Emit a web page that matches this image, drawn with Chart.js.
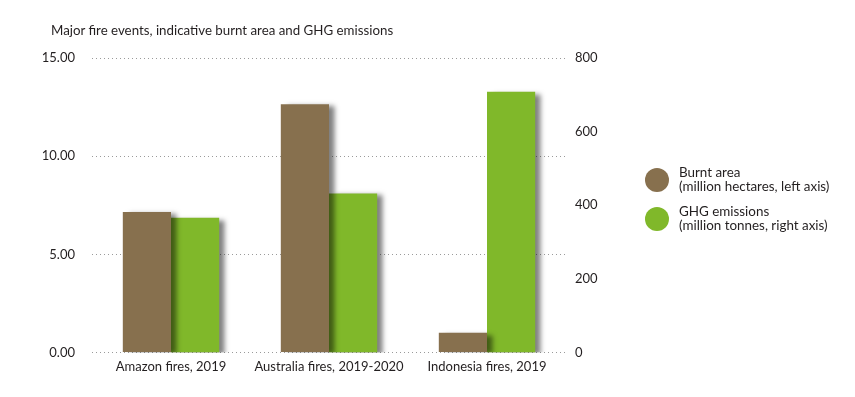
<!DOCTYPE html>
<html>
<head>
<meta charset="utf-8">
<script src="https://cdn.jsdelivr.net/npm/chart.js@4"></script>
<style>
  html, body { margin: 0; padding: 0; background: #fff; }
  #wrap { position: relative; width: 855px; height: 397px; overflow: hidden; font-family: Lato, sans-serif; color: #231f20; }
  #title { position: absolute; left: 51px; top: 22px; font-size: 13.3px; line-height: 16px; white-space: nowrap; }
  .leg { position: absolute; left: 645px; display: flex; align-items: center; }
  .dot { width: 24px; height: 24px; border-radius: 50%; margin-right: 10px; flex: none; }
  .lt { font-size: 13.4px; line-height: 13.5px; white-space: nowrap; }
  canvas { position: absolute; left: 0; top: 0; }
</style>
</head>
<body>
<div id="wrap">
  <canvas id="c" width="855" height="397"></canvas>
  <div id="title">Major fire events, indicative burnt area and GHG emissions</div>
  <div class="leg" style="top:166px"><div class="dot" style="background:#87704e"></div><div class="lt">Burnt area<br>(million hectares, left axis)</div></div>
  <div class="leg" style="top:205px"><div class="dot" style="background:#80b82a"></div><div class="lt">GHG emissions<br>(million tonnes, right axis)</div></div>
</div>
<script>
const categories = ["Amazon fires, 2019", "Australia fires, 2019-2020", "Indonesia fires, 2019"];
const burntArea = [7.15, 12.65, 1.0];      // million hectares (left axis)
const ghgEmissions = [366, 432, 708];      // million tonnes (right axis)
const leftTicks = [0, 5, 10, 15];
const rightTicks = [0, 200, 400, 600, 800];

Chart.defaults.font.family = 'Lato, sans-serif';
Chart.defaults.font.size = 13;
Chart.defaults.color = '#231f20';

const shadowPlugin = {
  id: 'barShadow',
  beforeDatasetsDraw(chart) {
    const ctx = chart.ctx;
    ctx.save();
    ctx.shadowColor = 'rgba(0,0,0,0.5)';
    ctx.shadowOffsetX = 6;
    ctx.shadowOffsetY = 2;
    ctx.shadowBlur = 5;
  },
  afterDatasetsDraw(chart) {
    chart.ctx.restore();
  }
};

new Chart(document.getElementById('c'), {
  type: 'bar',
  data: {
    labels: categories,
    datasets: [
      { label: 'Burnt area', data: burntArea, backgroundColor: '#87704e', yAxisID: 'yL', order: 0,
        categoryPercentage: 0.61, barPercentage: 1.0 },
      { label: 'GHG emissions', data: ghgEmissions, backgroundColor: '#80b82a', yAxisID: 'yR', order: 1,
        categoryPercentage: 0.61, barPercentage: 1.0 }
    ]
  },
  options: {
    responsive: false,
    animation: false,
    devicePixelRatio: 1,
    layout: { padding: { top: 58, left: 0, right: 0, bottom: 0 } },
    plugins: { legend: { display: false }, tooltip: { enabled: false } },
    scales: {
      x: {
        grid: { display: false, drawTicks: false },
        border: { display: false },
        ticks: { padding: 7, maxRotation: 0 },
        afterFit(s) { s.height = 44.5; }
      },
      yL: {
        position: 'left',
        min: 0, max: 15,
        afterBuildTicks(s) { s.ticks = leftTicks.map(v => ({ value: v })); },
        ticks: { padding: 17, callback: v => Number(v).toFixed(2) },
        grid: { color: '#9a9a9a', drawTicks: false, lineWidth: 1 },
        border: { display: false, dash: [1, 3] },
        afterFit(s) { s.width = 92; }
      },
      yR: {
        position: 'right',
        min: 0, max: 800,
        afterBuildTicks(s) { s.ticks = rightTicks.map(v => ({ value: v })); },
        ticks: { padding: 9, callback: v => String(v) },
        grid: { display: false, drawTicks: false },
        border: { display: false },
        afterFit(s) { s.width = 289; }
      }
    }
  },
  plugins: [shadowPlugin]
});
</script>
</body>
</html>
